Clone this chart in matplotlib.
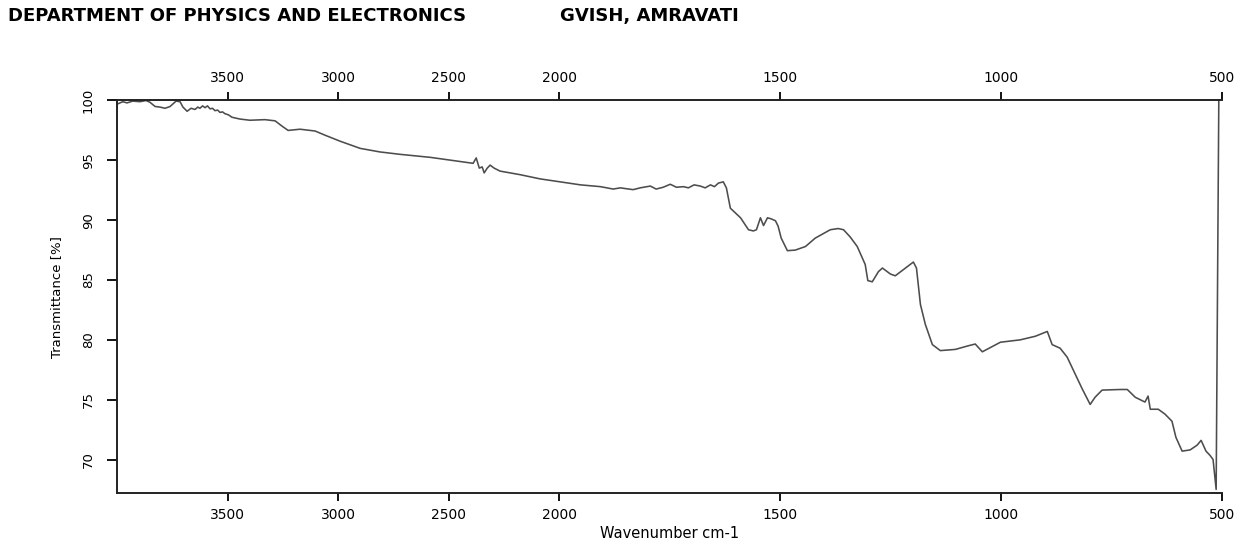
import numpy as np
import matplotlib
matplotlib.use('Agg')
import matplotlib.pyplot as plt

# FTIR spectrum, wavenumber (cm-1) vs transmittance (%)
wavenumber = [
    4000, 3975, 3956, 3930, 3897, 3870, 3852, 3829, 3807, 3784,
    3761, 3734, 3716, 3703, 3684, 3666, 3648, 3636, 3626, 3614,
    3603, 3592, 3580, 3569, 3558, 3546, 3535, 3524, 3513, 3497,
    3481, 3445, 3400, 3332, 3286, 3254, 3227, 3173, 3105, 3060,
    2992, 2901, 2811, 2720, 2584, 2448, 2390, 2376, 2362, 2349,
    2340, 2326, 2313, 2295, 2268, 2177, 2087, 1998,
    1952, 1907, 1878, 1862, 1833, 1817, 1794, 1781, 1765, 1749,
    1735, 1719, 1708, 1695, 1681, 1670, 1658, 1649, 1640, 1629,
    1622, 1613, 1590, 1572, 1561, 1554, 1545, 1538, 1529, 1520,
    1511, 1505, 1498, 1484, 1466, 1443, 1421, 1387, 1369, 1357,
    1342, 1326, 1308, 1302, 1292, 1278, 1269, 1251, 1240, 1217,
    1199, 1192, 1183, 1172, 1156, 1138, 1104, 1075, 1059, 1043,
    1025, 1002, 957, 923, 896, 885, 867, 851, 833, 817,
    799, 788, 772, 731, 715, 697, 675, 668, 663, 645,
    630, 614, 605, 591, 573, 557, 548, 537, 528, 521,
    514, 508,
]
transmittance = [
    99.7, 99.9, 99.8, 99.95, 99.9, 100.0, 99.85, 99.5, 99.45, 99.35,
    99.5, 99.95, 99.9, 99.45, 99.1, 99.35, 99.25, 99.45, 99.35, 99.55,
    99.4, 99.55, 99.3, 99.35, 99.15, 99.2, 99.0, 99.05, 98.9, 98.8,
    98.6, 98.45, 98.35, 98.4, 98.3, 97.85, 97.5, 97.6, 97.45, 97.1,
    96.6, 96.0, 95.7, 95.5, 95.25, 94.9, 94.75, 95.2, 94.35, 94.45,
    93.95, 94.35, 94.6, 94.35, 94.1, 93.8, 93.45, 93.2,
    92.95, 92.8, 92.6, 92.7, 92.55, 92.7, 92.85, 92.6, 92.75, 93.0,
    92.75, 92.8, 92.7, 92.95, 92.85, 92.7, 92.95, 92.8, 93.1, 93.2,
    92.7, 91.0, 90.2, 89.2, 89.1, 89.2, 90.2, 89.55, 90.2, 90.1,
    89.95, 89.5, 88.5, 87.45, 87.5, 87.8, 88.5, 89.2, 89.3, 89.2,
    88.6, 87.8, 86.3, 84.95, 84.85, 85.7, 86.0, 85.5, 85.35, 86.0,
    86.5, 86.0, 82.95, 81.3, 79.6, 79.1, 79.2, 79.5, 79.65, 79.0,
    79.35, 79.8, 80.0, 80.3, 80.7, 79.6, 79.3, 78.55, 77.15, 75.9,
    74.6, 75.2, 75.8, 75.85, 75.85, 75.2, 74.8, 75.3, 74.2, 74.2,
    73.8, 73.2, 71.85, 70.7, 70.8, 71.2, 71.6, 70.7, 70.35, 70.0,
    67.5, 100.0,
]

x_ticks = [3500, 3000, 2500, 2000, 1500, 1000, 500]
y_ticks = [70, 75, 80, 85, 90, 95, 100]


# the instrument doubles the horizontal scale below 2000 cm-1
def forward(w):
    w = np.asarray(w, dtype=float)
    return np.where(w >= 2000, w, 2 * w - 2000)


def inverse(u):
    u = np.asarray(u, dtype=float)
    return np.where(u >= 2000, u, (u + 2000) / 2)


plt.rcParams['font.family'] = ['DejaVu Sans']

fig = plt.figure(figsize=(12.45, 5.45), dpi=100)
ax = fig.add_axes([0.0942, 0.0954, 0.8876, 0.7202])

ax.plot(wavenumber, transmittance, color='#4d4d4d', linewidth=1.15)

ax.set_xscale('function', functions=(forward, inverse))
ax.set_xlim(4000, 500)
ax.set_ylim(67.2, 100)
ax.set_xticks(x_ticks)
ax.set_xticklabels([str(t) for t in x_ticks])
ax.set_yticks(y_ticks)
ax.set_yticklabels([str(t) for t in y_ticks], rotation=90, va='center')

ax.tick_params(axis='x', which='both', direction='out', length=6, width=1.3,
               top=True, labeltop=True, labelsize=10, pad=5)
ax.tick_params(axis='y', direction='out', length=7, width=1.3,
               labelsize=9.5, pad=9)
ax.minorticks_off()

for side in ('left', 'bottom', 'top'):
    ax.spines[side].set_linewidth(1.4)
    ax.spines[side].set_color('#222222')
ax.spines['right'].set_visible(False)

ax.set_xlabel('Wavenumber cm-1', fontsize=10.5, labelpad=3)
ax.set_ylabel('Transmittance [%]', fontsize=9.5, labelpad=14)

fig.text(8 / 1245, 1 - 16 / 545, 'DEPARTMENT OF PHYSICS AND ELECTRONICS',
         fontsize=13, fontweight='bold', va='center', ha='left')
fig.text(560 / 1245, 1 - 16 / 545, 'GVISH, AMRAVATI',
         fontsize=13, fontweight='bold', va='center', ha='left')

fig.savefig('out.png', dpi=100)
